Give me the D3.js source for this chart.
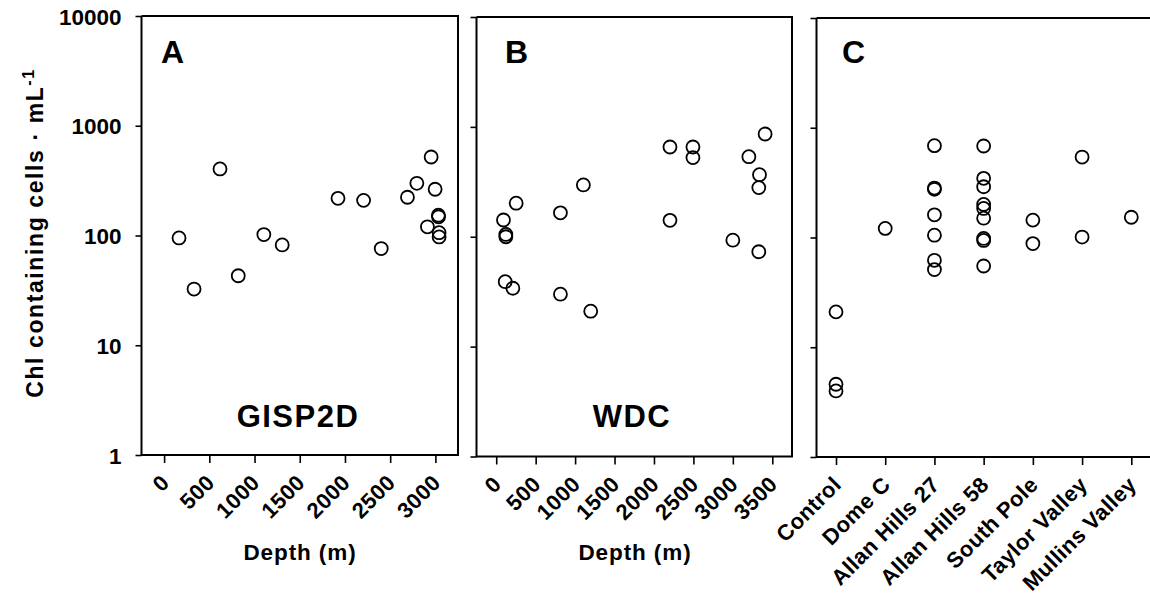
<!DOCTYPE html>
<html>
<head>
<meta charset="utf-8">
<script src="https://cdn.jsdelivr.net/npm/d3@7"></script>
<style>
  body { margin: 0; background: #fff; }
  svg { display: block; font-family: "Liberation Sans", Arial, sans-serif; font-weight: bold; }
</style>
</head>
<body>
<svg id="chart" width="1150" height="602"></svg>
<script>
// --- data ---
const yTicks = [1, 10, 100, 1000, 10000];

// Panel A: GISP2D core
const gispDepth = [165, 331, 618, 820, 1103, 1306, 1923, 2206, 2401, 2691, 2795, 2953, 2997, 2912, 3033, 3035, 3041, 3041];
const gispCells = [95, 32.5, 404, 43, 102, 82, 218, 209, 76, 223, 299, 519, 264, 120, 153, 148, 106, 97];
const gispTicks = [0, 500, 1000, 1500, 2000, 2500, 3000];

// Panel B: WDC core
const wdcDepth = [92, 122, 122, 253, 114, 211, 814, 814, 1105, 1198, 2203, 2203, 2494, 2494, 3000, 3203, 3409, 3338, 3329, 3329];
const wdcCells = [142, 105, 100, 202, 39, 34, 165, 30, 296, 21, 656, 141, 656, 525, 93, 535, 861, 367, 280, 73];
const wdcTicks = [0, 500, 1000, 1500, 2000, 2500, 3000, 3500];

// Panel C: sites
const siteNames = ["Control", "Dome C", "Allan Hills 27", "Allan Hills 58", "South Pole", "Taylor Valley", "Mullins Valley"];
const siteOf = ["Control", "Control", "Control", "Dome C",
  "Allan Hills 27", "Allan Hills 27", "Allan Hills 27", "Allan Hills 27", "Allan Hills 27", "Allan Hills 27", "Allan Hills 27",
  "Allan Hills 58", "Allan Hills 58", "Allan Hills 58", "Allan Hills 58", "Allan Hills 58", "Allan Hills 58", "Allan Hills 58", "Allan Hills 58", "Allan Hills 58",
  "South Pole", "South Pole", "Taylor Valley", "Taylor Valley", "Mullins Valley"];
const siteCells = [21, 4.6, 4.0, 121,
  687, 282, 275, 161, 105, 62, 51,
  682, 346, 290, 200, 184, 150, 98, 94, 55,
  144, 88, 541, 101, 153];

const svg = d3.select('#chart');
const R = 6.5;

function frame(g, x0, x1, y0, y1, rightSide) {
  const p = d3.path();
  p.moveTo(x0, y0); p.lineTo(x1, y0);
  if (rightSide) p.lineTo(x1, y1); else p.moveTo(x1, y1);
  p.lineTo(x0, y1); p.lineTo(x0, y0);
  g.append('path').attr('d', p.toString())
    .attr('fill', 'none').attr('stroke', '#000').attr('stroke-width', 2);
}

function yAxis(g, y, x0, labels) {
  const ax = g.append('g').attr('transform', `translate(${x0},0)`)
    .call(d3.axisLeft(y).tickValues(yTicks).tickSize(6).tickFormat(labels ? d3.format('d') : ''));
  ax.select('.domain').remove();
  ax.selectAll('line').attr('stroke', '#000').attr('stroke-width', 1.6);
  ax.selectAll('text').attr('x', -20).attr('dy', '0.36em')
    .style('font-size', '22.5px').style('font-family', 'inherit').attr('fill', '#000');
}

function xAxis(g, x, y1, ticks, fmt) {
  const ax = g.append('g').attr('transform', `translate(0,${y1})`)
    .call(d3.axisBottom(x).tickValues(ticks).tickSize(8).tickFormat(fmt));
  ax.select('.domain').remove();
  ax.selectAll('line').attr('stroke', '#000').attr('stroke-width', 1.6);
  ax.selectAll('text')
    .attr('y', 0).attr('dy', 0)
    .attr('text-anchor', 'end')
    .attr('transform', 'translate(6,29) rotate(-45)')
    .style('font-size', '22px').style('letter-spacing', '0.4px')
    .style('font-family', 'inherit').attr('fill', '#000');
}

function dots(g, xs, ys, x, y) {
  g.append('g').selectAll('circle')
    .data(xs.map((d, i) => [d, ys[i]]))
    .join('circle')
    .attr('cx', d => x(d[0]))
    .attr('cy', d => y(d[1]))
    .attr('r', R)
    .attr('fill', 'none')
    .attr('stroke', '#000')
    .attr('stroke-width', 1.8);
}

function letter(g, x, y, t) {
  g.append('text').attr('x', x).attr('y', y).text(t)
    .style('font-size', '32px').attr('fill', '#000');
}

function label(g, x, y, t, size, spacing) {
  g.append('text').attr('x', x).attr('y', y).attr('text-anchor', 'middle')
    .text(t).style('font-size', size + 'px').style('letter-spacing', spacing + 'px');
}

// ---- Panel A ----
{
  const g = svg.append('g');
  const x = d3.scaleLinear().domain([-250, 3250]).range([141.5, 458]);
  const y = d3.scaleLog().domain([1, 10000]).range([455, 16]);
  yAxis(g, y, 141.5, true);
  xAxis(g, x, 455, gispTicks, d3.format('d'));
  dots(g, gispDepth, gispCells, x, y);
  frame(g, 141.5, 458, 16, 455, true);
  letter(g, 161, 63, 'A');
  label(g, 298, 427, 'GISP2D', 31, 1.5);
  label(g, 300, 560, 'Depth (m)', 22.5, 0.9);
}

// ---- Panel B ----
{
  const g = svg.append('g');
  const x = d3.scaleLinear().domain([-250, 3750]).range([476.5, 792]);
  const y = d3.scaleLog().domain([1, 10000]).range([456.5, 17]);
  yAxis(g, y, 476.5, false);
  xAxis(g, x, 456.5, wdcTicks, d3.format('d'));
  dots(g, wdcDepth, wdcCells, x, y);
  frame(g, 476.5, 792, 17, 456.5, true);
  letter(g, 505, 63, 'B');
  label(g, 632, 427, 'WDC', 31, 1.5);
  label(g, 635, 560, 'Depth (m)', 22.5, 0.9);
}

// ---- Panel C ----
{
  const g = svg.append('g');
  const x = d3.scalePoint().domain(siteNames).range([836, 1131.3]);
  const y = d3.scaleLog().domain([1, 10000]).range([457, 18]);
  yAxis(g, y, 816.5, false);
  xAxis(g, x, 457, siteNames, d => d);
  dots(g, siteOf, siteCells, x, y);
  frame(g, 816.5, 1152, 18, 457, false);
  letter(g, 842, 63, 'C');
}

// y-axis title
svg.append('text')
  .attr('transform', 'translate(43,233) rotate(-90)')
  .attr('text-anchor', 'middle')
  .style('font-size', '23px')
  .style('letter-spacing', '1.6px')
  .call(t => {
    t.append('tspan').text('Chl containing cells \u00b7 mL');
    t.append('tspan').attr('dy', -9).style('font-size', '16px').text('-1');
  });
</script>
</body>
</html>
